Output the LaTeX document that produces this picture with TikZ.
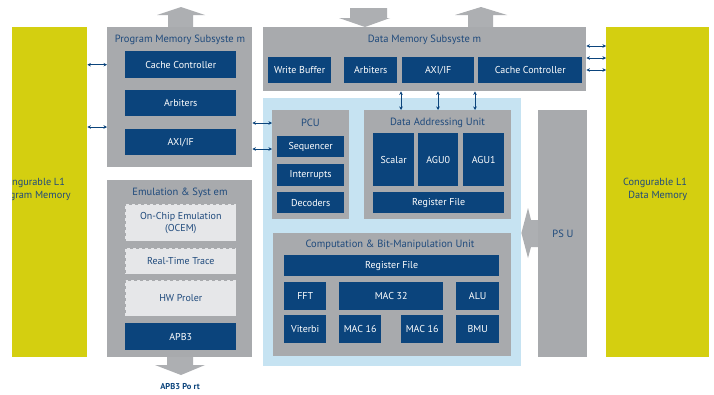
\documentclass[tikz,border=0pt]{standalone}
\usepackage{fontspec}
\setmainfont{PT Sans}
\usetikzlibrary{arrows.meta}
\definecolor{grayc}{HTML}{A8AAAD}
\definecolor{navyc}{HTML}{0B447C}
\definecolor{lblue}{HTML}{C6E3F2}
\definecolor{yel}{HTML}{D4CF10}
\definecolor{txt}{HTML}{1F4A7C}
\definecolor{dfill}{HTML}{E6E7E9}
\definecolor{arrg}{HTML}{ADAFB2}
\tikzset{
  gbox/.style={fill=grayc, draw=none, inner sep=0pt, anchor=north west},
  dbox/.style={fill=navyc, draw=none, inner sep=0pt, anchor=north west, text=white, font=\fontsize{10}{11.5}\selectfont, align=center},
  dashbox/.style={fill=dfill, draw=grayc, dashed, line width=0.6pt, inner sep=0pt, anchor=north west, text=txt, font=\fontsize{10}{11.5}\selectfont, align=center},
  ybox/.style={fill=yel, draw=none, inner sep=0pt, anchor=north west},
  lbbox/.style={fill=lblue, draw=none, inner sep=0pt, anchor=north west},
  ttl/.style={text=txt, font=\fontsize{10.5}{12}\selectfont, inner sep=0pt},
  ytxt/.style={text=txt, font=\fontsize{10.3}{12.5}\selectfont, inner sep=0pt, align=center},
  dbl/.style={draw=navyc, line width=0.8pt, {Stealth[length=3.5pt,width=3.5pt]}-{Stealth[length=3.5pt,width=3.5pt]}},
  bigarr/.style={fill=arrg, draw=none},
}
\begin{document}
\begin{tikzpicture}[x=1pt,y=-1pt]
\useasboundingbox (0,0) rectangle (714,394);
\fill[white] (0,0) rectangle (714,394);

% yellow memories
\node[ybox, minimum width=75pt, minimum height=330pt] (lpm) at (12,27) {};
\begin{scope}
\clip (12,27) rectangle (87,357);
\node[ytxt] (lpmt) at (33,189.5) {Congurable L1\\Program Memory};
\end{scope}
\node[ybox, minimum width=103pt, minimum height=330pt] (rdm) at (606,27) {};
\node[ytxt] (rdmt) at (655,189.5) {Congurable L1\\\ \ Data Memory};

% big arrows
\fill[bigarr] (168,27) -- (168,15) -- (157,15) -- (181,7) -- (205,15) -- (193,15) -- (193,27) -- cycle;
\fill[bigarr] (350,8) -- (387,8) -- (387,18) -- (390,18) -- (365,27) -- (339,18) -- (350,18) -- cycle;
\fill[bigarr] (468,27) -- (468,15) -- (455,15) -- (481,7) -- (507,15) -- (493,15) -- (493,27) -- cycle;
\fill[bigarr] (167,357) -- (193,357) -- (193,365) -- (205,365) -- (181,375) -- (155,365) -- (167,365) -- cycle;

% program memory subsystem
\node[gbox, minimum width=145pt, minimum height=140pt] (pms) at (107,27) {};
\node[ttl] (pmst) at (180,40) {Program Memory Subsyste m};
\node[dbox, minimum width=111pt, minimum height=27pt] (pcc) at (125,51) {Cache Controller};
\node[dbox, minimum width=111pt, minimum height=26pt] (parb) at (125,90) {Arbiters};
\node[dbox, minimum width=111pt, minimum height=26pt] (paxi) at (125,129) {AXI/IF};

% emulation & system
\node[gbox, minimum width=145pt, minimum height=177pt] (ems) at (107,180) {};
\node[ttl] (emst) at (180,193) {Emulation \& Syst em};
\node[dashbox, minimum width=111pt, minimum height=37pt] (ocem) at (125,204) {On-Chip Emulation\\(OCEM)};
\node[dashbox, minimum width=111pt, minimum height=26pt] (rtt) at (125,248) {Real-Time Trace};
\node[dashbox, minimum width=111pt, minimum height=36pt] (hwp) at (125,280) {HW Proler};
\node[dbox, minimum width=111pt, minimum height=27pt] (apb) at (125,323) {APB3};
\node[text=navyc, font=\fontsize{8.5}{10}\selectfont\bfseries, inner sep=0pt] (apbp) at (180,387) {APB3 Po rt};

% data memory subsystem
\node[gbox, minimum width=323pt, minimum height=64pt] (dms) at (263,27) {};
\node[ttl] (dmst) at (424.5,39.5) {Data Memory Subsyste m};
\node[dbox, minimum width=63pt, minimum height=26pt] (wb) at (268,57) {Write Buffer};
\node[dbox, minimum width=53pt, minimum height=26pt] (darb) at (344,57) {Arbiters};
\node[dbox, minimum width=72pt, minimum height=26pt] (daxi) at (402,57) {AXI/IF};
\node[dbox, minimum width=104pt, minimum height=26pt] (dcc) at (478,57) {Cache Controller};

% light blue core
\node[lbbox, minimum width=258pt, minimum height=268pt] (core) at (263,98) {};

% PCU
\node[gbox, minimum width=77pt, minimum height=109pt] (pcu) at (272,110) {};
\node[ttl] (pcut) at (310.5,122.5) {PCU};
\node[dbox, minimum width=67pt, minimum height=21pt] (seq) at (277,136) {Sequencer};
\node[dbox, minimum width=67pt, minimum height=22pt] (intr) at (277,164) {Interrupts};
\node[dbox, minimum width=67pt, minimum height=21pt] (dec) at (277,192) {Decoders};

% data addressing unit
\node[gbox, minimum width=147pt, minimum height=109pt] (dau) at (364,110) {};
\node[ttl] (daut) at (437.5,122.5) {Data Addressing Unit};
\node[dbox, minimum width=41pt, minimum height=53pt] (scal) at (373,133) {Scalar};
\node[dbox, minimum width=40pt, minimum height=53pt] (agu0) at (418,133) {AGU0};
\node[dbox, minimum width=41pt, minimum height=53pt] (agu1) at (463,133) {AGU1};
\node[dbox, minimum width=131pt, minimum height=21pt] (darf) at (373,192) {Register File};

% computation unit
\node[gbox, minimum width=238pt, minimum height=123pt] (cbu) at (273,233) {};
\node[ttl] (cbut) at (390,244.5) {Computation \& Bit-Manipulation Unit};
\node[dbox, minimum width=215pt, minimum height=21pt] (crf) at (284,255) {Register File};
\node[dbox, minimum width=42pt, minimum height=28pt] (fft) at (284,282) {FFT};
\node[dbox, minimum width=104pt, minimum height=28pt] (mac32) at (339,282) {MAC 32};
\node[dbox, minimum width=43pt, minimum height=28pt] (alu) at (456,282) {ALU};
\node[dbox, minimum width=42pt, minimum height=28pt] (vit) at (284,315) {Viterbi};
\node[dbox, minimum width=42pt, minimum height=28pt] (mac16a) at (339,315) {MAC 16};
\node[dbox, minimum width=42pt, minimum height=28pt] (mac16b) at (401,315) {MAC 16};
\node[dbox, minimum width=43pt, minimum height=28pt] (bmu) at (456,315) {BMU};

% PSU
\node[gbox, minimum width=49pt, minimum height=247pt] (psu) at (538,110) {};
\node[ttl] (psut) at (563,234) {PS U};
\fill[bigarr] (psu.west |- 0,220) -- (531,220) -- (528,208) -- (core.east |- 0,233) -- (528,258) -- (531,247) -- (psu.west |- 0,247) -- cycle;

% connectors
\draw[dbl] (lpm.east |- pcc) -- (pms.west |- pcc);
\draw[dbl] (lpm.east |- 0,127) -- (pms.west |- 0,127);
\draw[dbl] (pms.east |- 0,123) -- (pcu.west |- 0,123);
\draw[dbl] (pms.east |- 0,149) -- (pcu.west |- 0,149);
\draw[dbl] (dms.east |- 0,46) -- (rdm.west |- 0,46);
\draw[dbl] (dms.east |- 0,58) -- (rdm.west |- 0,58);
\draw[dbl] (dms.east |- 0,70) -- (rdm.west |- 0,70);
\draw[dbl] (dms.south -| 401,0) -- (dau.north -| 401,0);
\draw[dbl] (dms.south -| 438,0) -- (dau.north -| 438,0);
\draw[dbl] (dms.south -| 475,0) -- (dau.north -| 475,0);
\end{tikzpicture}
\end{document}
